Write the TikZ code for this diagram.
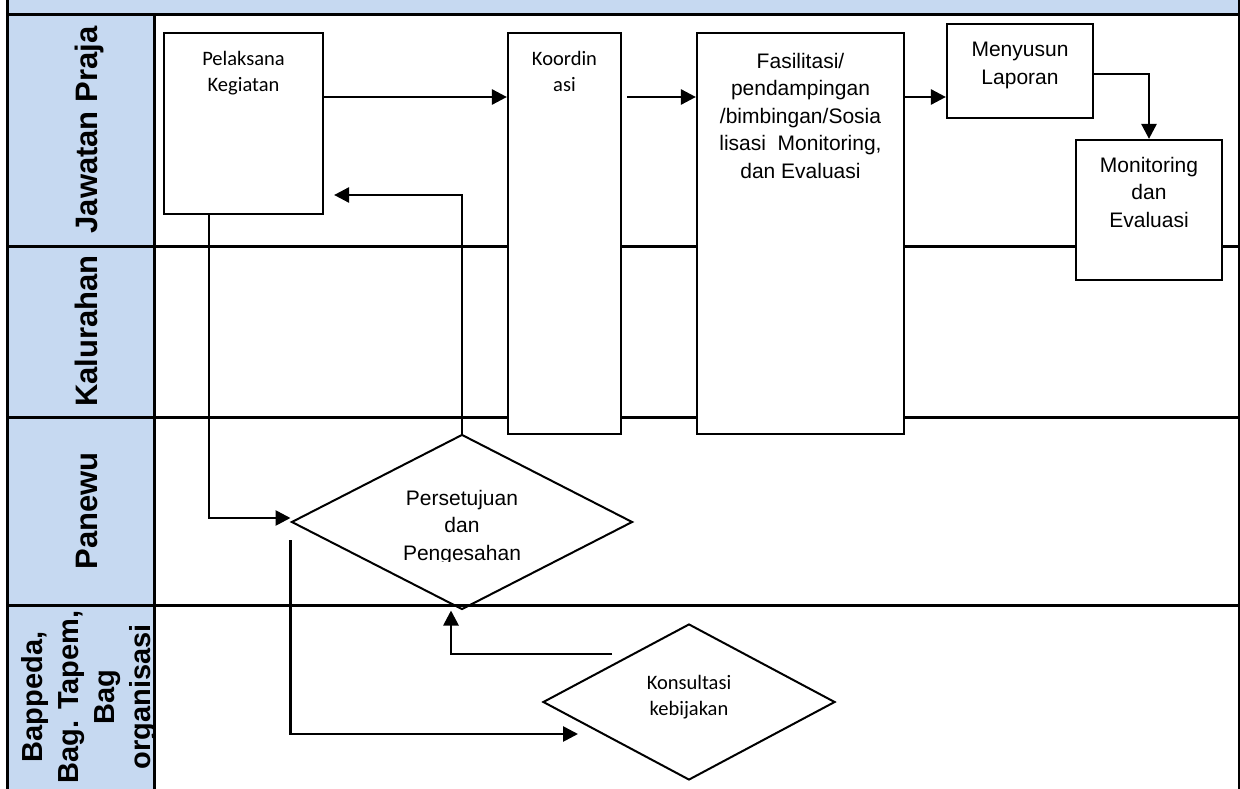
\documentclass[tikz,border=0pt]{standalone}
\usepackage{fontspec}
\setmainfont{Liberation Sans}
\newfontfamily\calibrifont{Carlito}
\usetikzlibrary{arrows.meta,shapes.geometric}
\definecolor{laneblue}{RGB}{198,217,241}

\begin{document}
\begin{tikzpicture}[x=1pt,y=-1pt,
  lanerule/.style={line width=3pt},
  stepbox/.style={draw, fill=white, line width=2.2pt, inner sep=0pt},
  decision/.style={draw, diamond, line width=2pt, inner sep=0pt},
  flow/.style={line width=2.7pt, -{Triangle[length=15pt,width=15pt]}},
  arialtext/.style={font=\fontsize{21}{27.5}\selectfont, align=center, inner sep=0pt, anchor=north},
  calibritext/.style={font=\calibrifont\fontsize{20.5}{26.5}\selectfont, align=center, inner sep=0pt, anchor=north},
  lanelabel/.style={font=\bfseries\fontsize{31}{34}\selectfont, rotate=90, inner sep=0pt, anchor=base}
]
\useasboundingbox (0,0) rectangle (1240,789);
\fill[white] (0,0) rectangle (1240,789);

% header strip and lane title column
\fill[laneblue] (7,0) rectangle (1239,15);
\fill[laneblue] (7,15) rectangle (154,789);

% lane titles
\node[lanelabel] (lj) at (97,130) {Jawatan Praja};
\node[lanelabel] (lk) at (97,331) {Kalurahan};
\node[lanelabel] (lp) at (97,511) {Panewu};
\begin{scope}
  \clip (7,605) rectangle (154,789);
  \node[font=\bfseries\fontsize{29}{36}\selectfont, rotate=90, align=center, inner sep=0pt]
    (lb) at (89.5,697) {Bappeda,\\Bag. Tapem,\\Bag\\organisasi};
\end{scope}

% lane grid
\draw[lanerule] (7,0) -- (7,789);
\draw[lanerule] (1239,0) -- (1239,789);
\draw[lanerule] (154,15) -- (154,789);
\foreach \yy in {15,246,417,605} \draw[lanerule] (7,\yy) -- (1239,\yy);

% process steps
\node[stepbox, minimum width=159pt, minimum height=181pt] (pk) at (243.5,123.5) {};
\node[stepbox, minimum width=113pt, minimum height=401pt] (ko) at (564.5,233.5) {};
\node[stepbox, minimum width=207pt, minimum height=401pt] (fa) at (800.5,233.5) {};
\node[stepbox, minimum width=146pt, minimum height=94pt] (ml) at (1020,71) {};
\node[stepbox, minimum width=146pt, minimum height=140pt] (me) at (1149,210) {};
\node[decision, minimum width=341pt, minimum height=175pt] (ps) at (462,522) {};
\node[decision, minimum width=292pt, minimum height=156pt] (kk) at (689,702) {};

% step texts
\node[calibritext] (tpk) at (243.5,51) {Pelaksana\\Kegiatan};
\node[calibritext] (tko) at (564.5,51) {Koordin\\asi};
\node[arialtext] (tfa) at (800.5,53) {Fasilitasi/\\pendampingan\\/bimbingan/Sosia\\lisasi\ \ Monitoring,\\dan Evaluasi};
\node[arialtext] (tml) at (1020,42) {Menyusun\\Laporan};
\node[arialtext] (tme) at (1149,157) {Monitoring\\dan\\Evaluasi};
\begin{scope}
  \clip (380,470) rectangle (545,561);
  \node[arialtext] (tps) at (462,490) {Persetujuan\\dan\\Pengesahan};
\end{scope}
\node[calibritext] (tkk) at (689,675) {Konsultasi\\kebijakan};

% connectors
\coordinate (rowA) at (0,97);
\coordinate (rowB) at (0,195);
\coordinate (colA) at (209,518);
\coordinate (kkin) at (578,734);
\coordinate (kkout) at (612,654);

\draw[flow] (pk.east |- rowA) -- (ko.west |- rowA);
\draw[flow, shorten <=5pt] (ko.east |- rowA) -- (fa.west |- rowA);
\draw[flow] (fa.east |- rowA) -- (ml.west |- rowA);
\draw[flow] ([yshift=-3pt]ml.east) -| (me.north);
\draw[flow] (pk.south -| colA) |- (ps.west |- colA);
\draw[flow, shorten >=10pt] (ps.north) |- (pk.east |- rowB);
\draw[flow] ([yshift=-18pt]ps.west) |- (kkin);
\draw[flow] (kkout) -| ([xshift=-11pt]ps.south);
\end{tikzpicture}
\end{document}
